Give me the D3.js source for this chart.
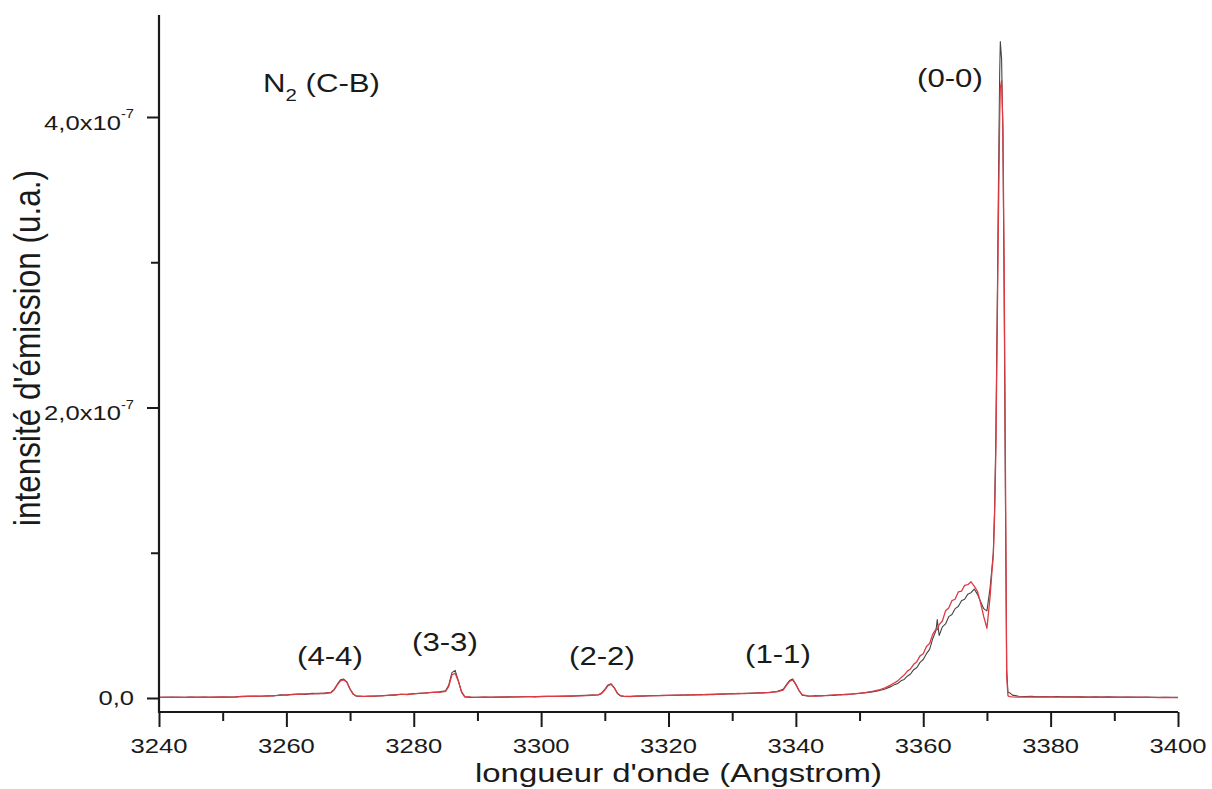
<!DOCTYPE html>
<html><head><meta charset="utf-8">
<script src="https://cdn.jsdelivr.net/npm/d3@7"></script>
<style>
html,body{margin:0;padding:0;background:#fff;}
svg text{font-family:"Liberation Sans",Arial,Helvetica,sans-serif;fill:#1a1a1a;}
</style></head><body><svg id="chart" width="1212" height="789"></svg>
<script>
// wavelength (Angstrom)
const wavelength = [
3240,3241,3242,3243,3244,3245,3246,3247,3248,3249,3250,3251,3252,3253,3254,3255,3256,3257,3258,3259,
3260,3261,3262,3263,3264,3265,3266,3267,3267.5,3268,3268.5,3269,3269.5,3270,3270.5,3271,3272,3273,3274,
3275,3276,3277,3278,3279,3280,3281,3282,3283,3284,3285,3285.5,3286,3286.5,3287,3287.5,3288,3289,3290,
3291,3292,3293,3294,3295,3296,3297,3298,3299,3300,3301,3302,3303,3304,3305,3306,3307,3308,3309,3309.5,
3310,3310.5,3311,3311.5,3312,3312.5,3313,3314,3315,3316,3317,3318,3319,3320,3321,3322,3323,3324,3325,
3326,3327,3328,3329,3330,3331,3332,3333,3334,3335,3336,3337,3338,3338.5,3339,3339.5,3340,3340.5,3341,
3342,3343,3344,3345,3346,3347,3348,3349,3350,3351,3352,3353,3354,3355,3355.5,3356,3356.5,3357,3357.5,
3358,3358.5,3359,3359.5,3360,3360.5,3361,3361.5,3362,3362.2,3362.5,3363,3363.5,3364,3364.5,3365,3365.5,
3366,3366.5,3367,3367.5,3368,3368.5,3369,3369.5,3370,3370.5,3370.8,3371,3371.2,3371.4,3371.6,3371.8,
3372,3372.1,3372.3,3372.5,3372.7,3372.9,3373.1,3373.3,3373.6,3374,3375,3376,3377,3378,3379,3380,3381,
3382,3383,3384,3385,3386,3387,3388,3389,3390,3391,3392,3393,3394,3395,3396,3397,3398,3399,3400];

// emission intensity, units of 1e-7 (u.a.) - dark trace
const intensityBlack = [
.005,.004,.006,.005,.004,.006,.005,.007,.005,.006,.007,.006,.008,.012,.011,.013,.012,.015,.014,.022,
.020,.026,.028,.025,.032,.030,.034,.040,.060,.095,.125,.130,.110,.060,.025,.012,.010,.013,.012,
.016,.018,.022,.024,.026,.030,.031,.036,.038,.042,.050,.090,.175,.190,.120,.040,.008,.004,.005,
.006,.004,.007,.006,.008,.007,.009,.010,.008,.011,.010,.012,.011,.014,.013,.016,.018,.020,.022,.035,
.060,.090,.098,.070,.030,.014,.010,.012,.014,.013,.016,.015,.018,.017,.020,.019,.022,.021,.024,
.023,.026,.028,.027,.030,.029,.033,.032,.036,.035,.040,.045,.060,.090,.120,.130,.095,.050,.020,
.012,.016,.014,.019,.018,.024,.022,.029,.031,.036,.042,.050,.062,.080,.092,.100,.118,.128,.150,
.165,.195,.210,.245,.265,.305,.335,.410,.465,.540,.430,.490,.510,.560,.575,.615,.630,
.670,.680,.715,.725,.750,.715,.665,.615,.600,.760,.900,1.000,1.300,1.800,2.600,3.500,
4.300,4.520,4.400,3.900,2.800,1.400,.200,.040,.035,.020,.012,.010,.011,.009,.010,.009,.010,
.008,.009,.008,.009,.007,.008,.007,.008,.006,.007,.006,.006,.005,.006,.005,.005,.004,.004,.004];

// emission intensity, units of 1e-7 (u.a.) - red trace
const intensityRed = [
.004,.005,.004,.006,.004,.005,.006,.005,.006,.005,.007,.006,.007,.010,.012,.011,.013,.013,.016,.018,
.022,.023,.027,.028,.029,.032,.031,.036,.055,.090,.118,.125,.108,.062,.028,.014,.012,.011,.014,
.015,.020,.019,.026,.024,.028,.033,.033,.040,.039,.046,.080,.160,.170,.115,.045,.010,.006,.004,
.005,.006,.005,.007,.006,.008,.008,.009,.010,.009,.012,.011,.013,.012,.014,.014,.017,.019,.021,.030,
.055,.085,.094,.068,.032,.016,.012,.010,.013,.015,.014,.017,.016,.019,.018,.021,.020,.023,.022,
.025,.024,.027,.029,.028,.031,.030,.034,.033,.037,.038,.043,.055,.085,.115,.124,.092,.052,.022,
.014,.013,.017,.016,.021,.022,.026,.027,.034,.038,.046,.055,.070,.092,.105,.118,.140,.158,.185,
.200,.232,.250,.290,.305,.355,.375,.440,.475,.470,.505,.530,.600,.620,.670,.680,.730,
.735,.775,.780,.800,.770,.735,.655,.560,.480,.700,.880,.980,1.250,1.700,2.500,3.300,
4.000,4.200,4.250,3.950,3.000,1.600,.150,.015,.010,.008,.006,.006,.007,.006,.008,.007,.006,
.007,.006,.007,.005,.006,.005,.006,.005,.005,.004,.005,.004,.005,.004,.004,.003,.004,.003,.003];

const xTickValues = [3240,3260,3280,3300,3320,3340,3360,3380,3400];
const xMinorTickValues = [3250,3270,3290,3310,3330,3350,3370,3390];
const yTickValues = [0,2,4];
const yTickLabels = ["0,0","2,0x10","4,0x10"];
const yTickExponents = ["","-7","-7"];
const yMinorTickValues = [1,3];
const bandLabels = ["(4-4)","(3-3)","(2-2)","(1-1)","(0-0)"];

// ---------- layout ----------
const SX = 1.22; // horizontal stretch of the original picture
const svg = d3.select("#chart");
const x = d3.scaleLinear().domain([3240,3400]).range([159,1178]);
const y = d3.scaleLinear().domain([-0.0964,4.7022]).range([712,15]);
const axisColor = "#1a1a1a";

// series
const pts = wavelength.map((w,i)=>({w, b:intensityBlack[i], r:intensityRed[i]}));
const lineB = d3.line().x(d=>x(d.w)).y(d=>y(d.b));
const lineR = d3.line().x(d=>x(d.w)).y(d=>y(d.r));
svg.append("path").datum(pts).attr("d",lineB).attr("fill","none")
  .attr("stroke","#444444").attr("stroke-width",1.1).attr("stroke-linejoin","round");
svg.append("path").datum(pts).attr("d",lineR).attr("fill","none")
  .attr("stroke","#dd3a42").attr("stroke-width",1.3).attr("stroke-linejoin","round");

// x axis
const gx = svg.append("g").attr("transform","translate(0,712)");
gx.call(d3.axisBottom(x).tickValues(xTickValues).tickSize(15).tickFormat(""));
const gxm = svg.append("g").attr("transform","translate(0,712)");
gxm.call(d3.axisBottom(x).tickValues(xMinorTickValues).tickSize(9).tickFormat(""));
xTickValues.forEach(v=>{
  svg.append("text").attr("transform",`translate(${x(v)},753) scale(${SX},1)`)
    .attr("text-anchor","middle").attr("font-size",21).text(v);
});

// y axis
const gy = svg.append("g").attr("transform","translate(159,0)");
gy.call(d3.axisLeft(y).tickValues(yTickValues).tickSize(12).tickFormat(""));
const gym = svg.append("g").attr("transform","translate(159,0)");
gym.call(d3.axisLeft(y).tickValues(yMinorTickValues).tickSize(8).tickFormat(""));
[gx,gxm,gy,gym].forEach(g=>{
  g.selectAll("line").attr("stroke",axisColor).attr("stroke-width",2);
  g.select(".domain").remove();
});
// axis lines
svg.append("line").attr("x1",x(3240)).attr("x2",x(3400)).attr("y1",712).attr("y2",712)
  .attr("stroke",axisColor).attr("stroke-width",2.2);
svg.append("line").attr("x1",159).attr("x2",159).attr("y1",y.range()[1]).attr("y2",713)
  .attr("stroke",axisColor).attr("stroke-width",2.2);

yTickValues.forEach((v,i)=>{
  const hasExp = yTickExponents[i] !== "";
  const t = svg.append("text")
    .attr("transform",`translate(134,${y(v) + (hasExp?13:7)}) scale(${SX},1)`)
    .attr("text-anchor","end").attr("font-size",21);
  t.append("tspan").text(yTickLabels[i]);
  if (hasExp) t.append("tspan").attr("font-size",12).attr("dy",-12).text(yTickExponents[i]);
});

// titles
svg.append("text").attr("x",678.5).attr("y",782).attr("text-anchor","middle")
  .attr("font-size",26).attr("textLength",407).attr("lengthAdjust","spacingAndGlyphs")
  .text("longueur d'onde (Angstrom)");
svg.append("text").attr("transform",`translate(40,348) scale(1.25,1) rotate(-90)`)
  .attr("text-anchor","middle").attr("font-size",30)
  .attr("textLength",356).attr("lengthAdjust","spacingAndGlyphs")
  .text("intensité d'émission (u.a.)");

// species label
const n2 = svg.append("text").attr("transform",`translate(263,92) scale(1.2,1)`).attr("font-size",26);
n2.append("tspan").text("N");
n2.append("tspan").attr("font-size",17).attr("dy",9).text("2");
n2.append("tspan").attr("dy",-9).text(" (C-B)");

// band labels
const bandPos = [[297,665],[412,651],[569,665],[745,663],[917,87]];
bandLabels.forEach((s,i)=>{
  svg.append("text").attr("transform",`translate(${bandPos[i][0]},${bandPos[i][1]}) scale(1.2,1)`)
    .attr("font-size",26).text(s);
});
</script></body></html>
